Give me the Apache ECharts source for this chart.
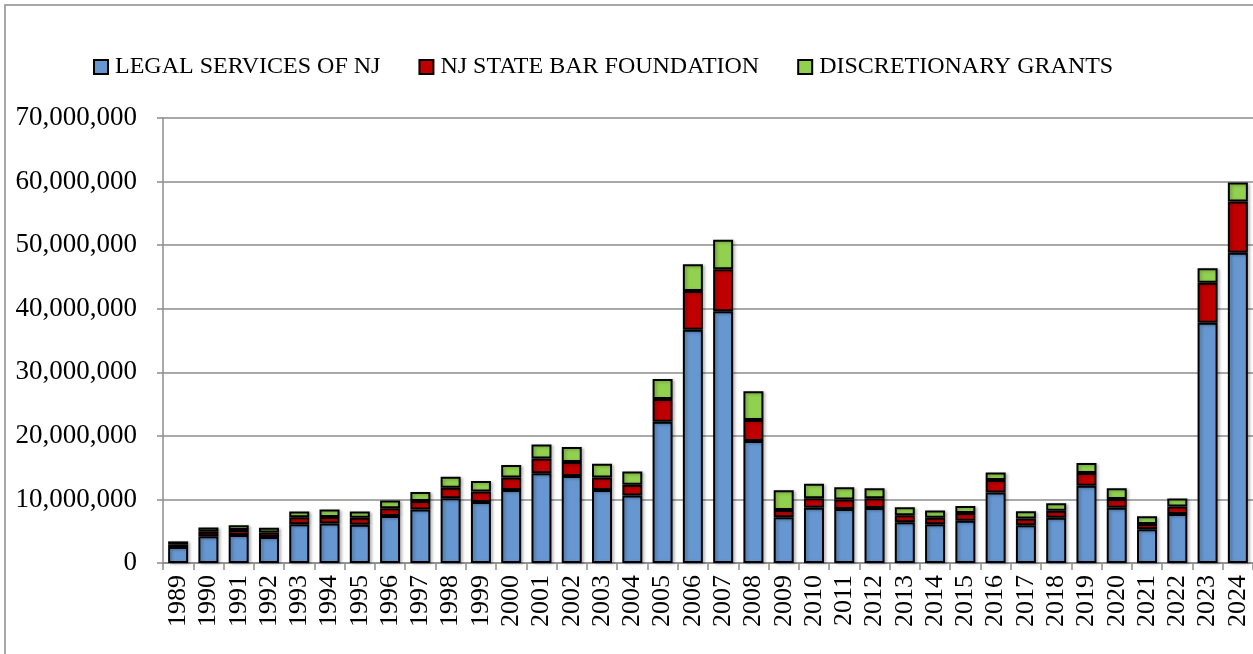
<!DOCTYPE html>
<html>
<head>
<meta charset="utf-8">
<script src="https://cdn.jsdelivr.net/npm/echarts@6/dist/echarts.min.js"></script>
<style>
html,body{margin:0;padding:0;background:#fff;}
#chart{width:1253px;height:654px;}
</style>
</head>
<body>
<div id="chart"></div>
<script>
const years = ['1989','1990','1991','1992','1993','1994','1995','1996','1997','1998','1999','2000','2001','2002','2003','2004','2005','2006','2007','2008','2009','2010','2011','2012','2013','2014','2015','2016','2017','2018','2019','2020','2021','2022','2023','2024'];
const legalServices = [2500000,4200000,4400000,4100000,6100000,6200000,6000000,7400000,8400000,10200000,9600000,11500000,14100000,13700000,11500000,10600000,22200000,36700000,39600000,19200000,7200000,8700000,8500000,8650000,6400000,6100000,6650000,11100000,5950000,7100000,12150000,8700000,5300000,7700000,37800000,48800000];
const stateBar = [450000,700000,800000,700000,1100000,1050000,1100000,1200000,1350000,1650000,1650000,1950000,2350000,2200000,1950000,1700000,3600000,6100000,6600000,3300000,1150000,1500000,1500000,1550000,1100000,1000000,1200000,1950000,1050000,1100000,2000000,1350000,850000,1200000,6300000,8050000];
const discretionary = [450000,700000,750000,750000,900000,1150000,1000000,1250000,1400000,1700000,1650000,1950000,2200000,2350000,2150000,2100000,3150000,4200000,4650000,4500000,3100000,2250000,1900000,1550000,1250000,1150000,1100000,1200000,1150000,1200000,1600000,1700000,1200000,1250000,2250000,3000000];
const seriesNames = ['LEGAL SERVICES OF NJ','NJ STATE BAR FOUNDATION','DISCRETIONARY GRANTS'];
const yTicks = [0,10000000,20000000,30000000,40000000,50000000,60000000,70000000];

const font = '"Liberation Serif", "Times New Roman", serif';
const gridColor = '#8c8c8c';
const colors = ['#6797D0','#C00000','#92D050'];
function mk(name, data, color){
  return {
    name: name, type: 'bar', stack: 'total', data: data, barWidth: 20,
    itemStyle: {color: color, borderColor: '#000', borderWidth: 2,
      shadowColor: 'rgba(0,0,0,0.25)', shadowBlur: 3, shadowOffsetX: 2, shadowOffsetY: 1},
    emphasis: {disabled: true}
  };
}
const chart = echarts.init(document.getElementById('chart'), null, {renderer:'canvas'});
chart.setOption({
  animation: false,
  backgroundColor: '#fff',
  graphic: [{type:'rect', shape:{x:5, y:5, width:1400, height:800}, style:{fill:'none', stroke:'#8c8c8c', lineWidth:1.5}, silent:true, z:-1}],
  legend: {
    left: 88, top: 50, itemWidth: 14, itemHeight: 14, itemGap: 38,
    icon: 'rect',
    textStyle: {fontFamily: font, fontSize: 24, color: '#000', padding:[0,0,0,2]},
    data: seriesNames
  },
  grid: {left: 163, top: 118, width: 1092, height: 445, containLabel: false},
  xAxis: {
    type: 'category', data: years,
    axisLine: {lineStyle: {color: gridColor, width: 1.5}},
    axisTick: {show: true, length: 7, lineStyle: {color: gridColor, width: 1.5}},
    axisLabel: {rotate: 90, margin: 12, fontFamily: font, fontSize: 26, color: '#000', interval: 0}
  },
  yAxis: {
    type: 'value', min: 0, max: 70000000, interval: 10000000,
    axisLine: {show: true, lineStyle: {color: gridColor, width: 1.5}},
    axisTick: {show: true, length: 6, lineStyle: {color: gridColor, width: 1.5}},
    splitLine: {lineStyle: {color: gridColor, width: 1.5}},
    axisLabel: {margin: 26, fontFamily: font, fontSize: 27, color: '#000',
      formatter: function(v){ return yTicks.indexOf(v) >= 0 ? v.toLocaleString('en-US') : ''; }}
  },
  series: [
    mk(seriesNames[0], legalServices, colors[0]),
    mk(seriesNames[1], stateBar, colors[1]),
    mk(seriesNames[2], discretionary, colors[2])
  ]
});
</script>
</body>
</html>
